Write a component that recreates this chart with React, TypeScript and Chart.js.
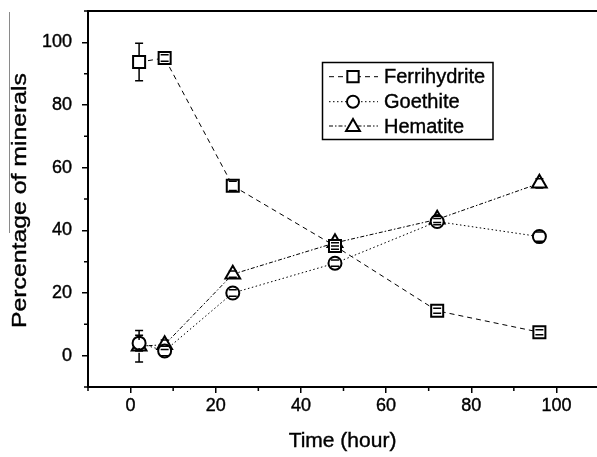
import React, { useEffect, useRef } from 'react';
import { Chart, registerables } from 'chart.js';
Chart.register(...registerables);

const times = [2, 8, 24, 48, 72, 96];
const ferrihydrite = [93.7, 95, 54.2, 35, 14.3, 7.5];
const ferrihydriteErr = [6, 1, 1.5, 1, 0.8, 0.8];
const goethite = [4, 1.5, 20, 29.5, 42.8, 38];
const goethiteErr = [2.5, 1.5, 1, 1, 1, 1.5];
const hematite = [3, 3.5, 26, 36, 43.5, 55];
const hematiteErr = [5, 1.5, 1, 1, 1, 1.5];
const seriesNames = ['Ferrihydrite', 'Goethite', 'Hematite'];
const majorTicks = [0, 20, 40, 60, 80, 100];
const minorTicks = [-10, 10, 30, 50, 70, 90, 110];
const xTitle = 'Time (hour)';
const yTitle = 'Percentage of minerals';

const FONT = '"Liberation Sans", Arial, sans-serif';
const INK = '#000';

function drawMarker(ctx: CanvasRenderingContext2D, style: string, x: number, y: number, r: number) {
  ctx.beginPath();
  if (style === 'rect') {
    const h = r * Math.SQRT1_2;
    ctx.rect(x - h, y - h, 2 * h, 2 * h);
  } else if (style === 'circle') {
    ctx.arc(x, y, r, 0, Math.PI * 2);
  } else {
    const w = r * Math.sin(Math.PI / 3);
    ctx.moveTo(x, y - r);
    ctx.lineTo(x + w, y + r / 2);
    ctx.lineTo(x - w, y + r / 2);
    ctx.closePath();
  }
  ctx.fillStyle = '#fff';
  ctx.fill();
  ctx.lineWidth = 2;
  ctx.strokeStyle = '#000';
  ctx.stroke();
}

const errors = [ferrihydriteErr, goethiteErr, hematiteErr];

function boldText(ctx: CanvasRenderingContext2D, text: string, x: number, y: number) {
  ctx.fillText(text, x, y);
  ctx.lineWidth = 0.4;
  ctx.strokeStyle = INK;
  ctx.strokeText(text, x, y);
}

const decorPlugin = {
  id: 'decor',
  afterDatasetsDraw(chart: any) {
    const ctx = chart.ctx as CanvasRenderingContext2D;
    const xs = chart.scales.x;
    const ys = chart.scales.y;
    chart.data.datasets.forEach((ds: any, di: number) => {
      const err = errors[di];
      const r = ds.pointRadius;
      ds.data.forEach((p: any, i: number) => {
        const px = xs.getPixelForValue(p.x);
        const pc = ys.getPixelForValue(p.y);
        const top = ys.getPixelForValue(p.y + err[i]);
        const bot = ys.getPixelForValue(p.y - err[i]);
        ctx.save();
        ctx.strokeStyle = '#000';
        ctx.lineWidth = 1.5;
        ctx.beginPath();
        const edge = r * 0.75;
        if (pc - top > edge) {
          ctx.moveTo(px, pc - edge);
          ctx.lineTo(px, top);
        }
        if (bot - pc > edge) {
          ctx.moveTo(px, pc + edge);
          ctx.lineTo(px, bot);
        }
        ctx.moveTo(px - 4, top);
        ctx.lineTo(px + 4, top);
        ctx.moveTo(px - 4, bot);
        ctx.lineTo(px + 4, bot);
        ctx.stroke();
        ctx.restore();
      });
    });
  },
  afterDraw(chart: any) {
    const ctx = chart.ctx as CanvasRenderingContext2D;
    const { left, right, top, bottom } = chart.chartArea;
    const xs = chart.scales.x;
    const ys = chart.scales.y;
    ctx.save();
    ctx.strokeStyle = '#000';
    ctx.lineWidth = 2;
    ctx.beginPath();
    ctx.moveTo(left - 1, top);
    ctx.lineTo(right + 20, top);
    ctx.stroke();
    ctx.lineWidth = 1.5;
    ctx.beginPath();
    minorTicks.forEach((v) => {
      const px = xs.getPixelForValue(v);
      ctx.moveTo(px, bottom);
      ctx.lineTo(px, bottom + 4);
      const py = ys.getPixelForValue(v);
      ctx.moveTo(left, py);
      ctx.lineTo(left - 4, py);
    });
    ctx.stroke();
    ctx.strokeStyle = '#8a8a8a';
    ctx.lineWidth = 1;
    ctx.beginPath();
    ctx.moveTo(9.5, 12);
    ctx.lineTo(9.5, 233);
    ctx.stroke();
    ctx.fillStyle = INK;
    ctx.font = `21px ${FONT}`;
    ctx.textAlign = 'center';
    ctx.textBaseline = 'alphabetic';
    const w = ctx.measureText(yTitle).width;
    ctx.save();
    ctx.translate(25.5, 200.5);
    ctx.rotate(-Math.PI / 2);
    ctx.scale(255 / w, 1);
    boldText(ctx, yTitle, 0, 0);
    ctx.restore();
    boldText(ctx, xTitle, (left + right) / 2 - 1, 446.5);
    const bx = 322.5, by = 62.5, bw = 170.5, bh = 77;
    ctx.lineWidth = 1.5;
    ctx.strokeStyle = '#000';
    ctx.strokeRect(bx, by, bw, bh);
    const rows = [76.7, 101.7, 126];
    chart.data.datasets.forEach((ds: any, di: number) => {
      const y = rows[di];
      ctx.save();
      ctx.strokeStyle = '#000';
      ctx.lineWidth = 1;
      ctx.setLineDash(ds.borderDash);
      ctx.beginPath();
      ctx.moveTo(329, y);
      ctx.lineTo(378, y);
      ctx.stroke();
      ctx.restore();
      drawMarker(ctx, ds.pointStyle, 353, y + (ds.pointStyle === 'triangle' ? 1 : 0), ds.pointStyle === 'rect' ? 8 : ds.pointStyle === 'circle' ? 6 : 8);
      ctx.fillStyle = INK;
      ctx.font = `20px ${FONT}`;
      ctx.textAlign = 'left';
      ctx.textBaseline = 'middle';
      boldText(ctx, ds.label, 384, y + 1);
    });
    ctx.restore();
  },
};

const zeroPad = (s: any) => {
  s.paddingTop = 0;
  s.paddingBottom = 0;
  s.paddingLeft = 0;
  s.paddingRight = 0;
};

export default function App() {
  const ref = useRef<HTMLCanvasElement>(null);
  useEffect(() => {
    if (!ref.current) return;
    const mk = (vals: number[]) => times.map((t, i) => ({ x: t, y: vals[i] }));
    const base = {
      borderColor: '#000',
      borderWidth: 1,
      pointBackgroundColor: '#fff',
      pointBorderColor: '#000',
      pointBorderWidth: 2,
      fill: false,
      tension: 0,
    };
    const tickFont = { family: FONT, size: 18 };
    const chart = new Chart(ref.current, {
      type: 'scatter',
      data: {
        datasets: [
          { ...base, label: seriesNames[0], data: mk(ferrihydrite), showLine: true, borderDash: [5, 4], pointStyle: 'rect', pointRadius: 8.5 },
          { ...base, label: seriesNames[1], data: mk(goethite), showLine: true, borderDash: [1.5, 2.5], pointStyle: 'circle', pointRadius: 6.5 },
          { ...base, label: seriesNames[2], data: mk(hematite), showLine: true, borderDash: [4, 2, 1.5, 2], pointStyle: 'triangle', pointRadius: 8.5 },
        ] as any,
      },
      options: {
        animation: false,
        responsive: false,
        devicePixelRatio: 1,
        layout: { padding: { top: 11, right: 11, left: 0, bottom: 0 } },
        plugins: { legend: { display: false }, tooltip: { enabled: false } },
        scales: {
          x: {
            type: 'linear',
            min: -10,
            max: 110,
            afterBuildTicks: (s: any) => { s.ticks = majorTicks.map((v) => ({ value: v })); },
            afterFit: (s: any) => { s.height = 70; zeroPad(s); },
            border: { display: true, color: '#000', width: 2 },
            grid: { drawOnChartArea: false, drawTicks: true, tickLength: 6, color: '#000', lineWidth: 1.5 },
            ticks: { color: INK, font: tickFont, padding: 2, maxRotation: 0, textStrokeColor: INK, textStrokeWidth: 0.4 },
          },
          y: {
            type: 'linear',
            min: -10,
            max: 110,
            afterBuildTicks: (s: any) => { s.ticks = majorTicks.map((v) => ({ value: v })); },
            afterFit: (s: any) => { s.width = 88; zeroPad(s); },
            border: { display: true, color: '#000', width: 2 },
            grid: { drawOnChartArea: false, drawTicks: true, tickLength: 6, color: '#000', lineWidth: 1.5 },
            ticks: { color: INK, font: tickFont, padding: 10, textStrokeColor: INK, textStrokeWidth: 0.4 },
          },
        },
      },
      plugins: [decorPlugin],
    });
    return () => chart.destroy();
  }, []);
  return (
    <div style={{ position: 'fixed', left: 0, top: 0, width: 610, height: 457, background: '#fff' }}>
      <canvas ref={ref} width={610} height={457} />
    </div>
  );
}
